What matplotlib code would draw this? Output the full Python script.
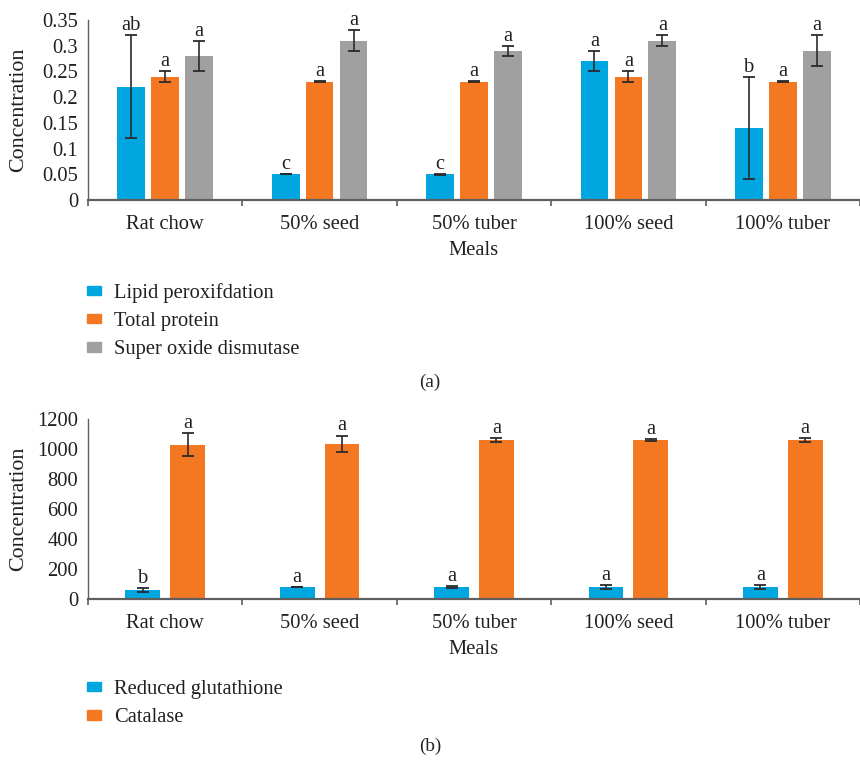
import matplotlib
matplotlib.use("Agg")
import matplotlib.pyplot as plt
from matplotlib.patches import Patch
import numpy as np

plt.rcParams['font.family'] = ['Liberation Serif', 'DejaVu Serif']

meals = ["Rat chow", "50% seed", "50% tuber", "100% seed", "100% tuber"]

# Panel (a)
lipid = [0.22, 0.05, 0.05, 0.27, 0.14]
lipid_err = [0.10, 0.0, 0.001, 0.02, 0.10]
lipid_lab = ["ab", "c", "c", "a", "b"]
protein = [0.24, 0.23, 0.23, 0.24, 0.23]
protein_err = [0.01, 0.001, 0.001, 0.01, 0.001]
protein_lab = ["a", "a", "a", "a", "a"]
sod = [0.28, 0.31, 0.29, 0.31, 0.29]
sod_err = [0.03, 0.02, 0.01, 0.01, 0.03]
sod_lab = ["a", "a", "a", "a", "a"]

# Panel (b)
gsh = [60, 80, 80, 80, 80]
gsh_err = [14, 3, 4, 12, 14]
gsh_lab = ["b", "a", "a", "a", "a"]
catalase = [1030, 1035, 1058, 1060, 1058]
catalase_err = [78, 55, 14, 5, 14]
catalase_lab = ["a", "a", "a", "a", "a"]

BLUE = "#00A6E0"
ORANGE = "#F47722"
GRAY = "#A0A0A1"
ERR = "#2b2b2b"
SPINE = "#5f5f5f"
TXT = "#231f20"

W, H = 860, 767
fig = plt.figure(figsize=(W / 100, H / 100), dpi=100)

def axrect(x0, y_top, x1, y_bot):
    return [x0 / W, 1 - y_bot / H, (x1 - x0) / W, (y_bot - y_top) / H]

x = np.arange(len(meals))
FS = 14.8

def style(ax, ylim, yticks, yticklabels):
    ax.set_xlim(-0.5, -0.5 + 772 / 156)
    ax.set_ylim(*ylim)
    ax.set_yticks(yticks)
    ax.set_yticklabels(yticklabels, fontsize=FS, color=TXT)
    ax.set_xticks(x)
    ax.set_xticklabels(meals, fontsize=FS, color=TXT)
    ax.set_xticks(np.arange(len(meals) + 1) - 0.5, minor=True)
    ax.tick_params(axis='x', which='major', length=0, pad=11)
    ax.tick_params(axis='x', which='minor', length=4, color=SPINE, width=1.2)
    ax.tick_params(axis='y', length=0, pad=7)
    for s in ['top', 'right']:
        ax.spines[s].set_visible(False)
    ax.spines['left'].set_color(SPINE)
    ax.spines['bottom'].set_color(SPINE)
    ax.spines['left'].set_linewidth(1.0)
    ax.spines['bottom'].set_linewidth(1.6)
    ax.set_ylabel("Concentration", fontsize=FS + 1, color=TXT)
    ax.set_xlabel("Meals", fontsize=FS, color=TXT, labelpad=5)
    ax.yaxis.set_label_coords(-(88 - 28) / 772, 0.5)
    ax.patch.set_alpha(0)

def bars(ax, pos, vals, errs, labs, color, width):
    ax.bar(pos, vals, width=width, color=color, zorder=2)
    ax.errorbar(pos, vals, yerr=errs, fmt='none', ecolor=ERR, elinewidth=1.2,
                capsize=4, capthick=1.3, zorder=3)
    for xi, v, e, l in zip(pos, vals, errs, labs):
        ax.annotate(l, (xi, v + e), xytext=(0, 0), textcoords='offset points',
                    ha='center', va='bottom', fontsize=FS, color=TXT)

# ---- panel (a)
ax1 = fig.add_axes(axrect(88, 20, 860, 200))
bw, off = 0.18, 0.22
bars(ax1, x - off, lipid, lipid_err, lipid_lab, BLUE, bw)
bars(ax1, x, protein, protein_err, protein_lab, ORANGE, bw)
bars(ax1, x + off, sod, sod_err, sod_lab, GRAY, bw)
yt = [0, 0.05, 0.1, 0.15, 0.2, 0.25, 0.3, 0.35]
style(ax1, (0, 0.35), yt, ["0", "0.05", "0.1", "0.15", "0.2", "0.25", "0.3", "0.35"])

h1 = [Patch(color=BLUE), Patch(color=ORANGE), Patch(color=GRAY)]
leg1 = fig.legend(h1, ["Lipid peroxifdation", "Total protein", "Super oxide dismutase"],
                  loc='upper left', bbox_to_anchor=(87 / W, 1 - 283 / H), frameon=False,
                  fontsize=FS, handlelength=0.7, handleheight=0.32, handletextpad=0.6,
                  labelspacing=0.45, borderaxespad=0, borderpad=0)
for t in leg1.get_texts():
    t.set_color(TXT)
fig.text(430 / W, 1 - 382 / H, "(a)", ha='center', va='center', fontsize=FS - 1, color=TXT)

# ---- panel (b)
ax2 = fig.add_axes(axrect(88, 419, 860, 599))
bw2, off2 = 0.225, 0.145
bars(ax2, x - off2, gsh, gsh_err, gsh_lab, BLUE, bw2)
bars(ax2, x + off2, catalase, catalase_err, catalase_lab, ORANGE, bw2)
yt2 = [0, 200, 400, 600, 800, 1000, 1200]
style(ax2, (0, 1200), yt2, [str(v) for v in yt2])

h2 = [Patch(color=BLUE), Patch(color=ORANGE)]
leg2 = fig.legend(h2, ["Reduced glutathione", "Catalase"],
                  loc='upper left', bbox_to_anchor=(87 / W, 1 - 680 / H), frameon=False,
                  fontsize=FS, handlelength=0.7, handleheight=0.32, handletextpad=0.6,
                  labelspacing=0.45, borderaxespad=0, borderpad=0)
for t in leg2.get_texts():
    t.set_color(TXT)
fig.text(430 / W, 1 - 746 / H, "(b)", ha='center', va='center', fontsize=FS - 1, color=TXT)

fig.savefig("out.png", dpi=100, facecolor='white')
